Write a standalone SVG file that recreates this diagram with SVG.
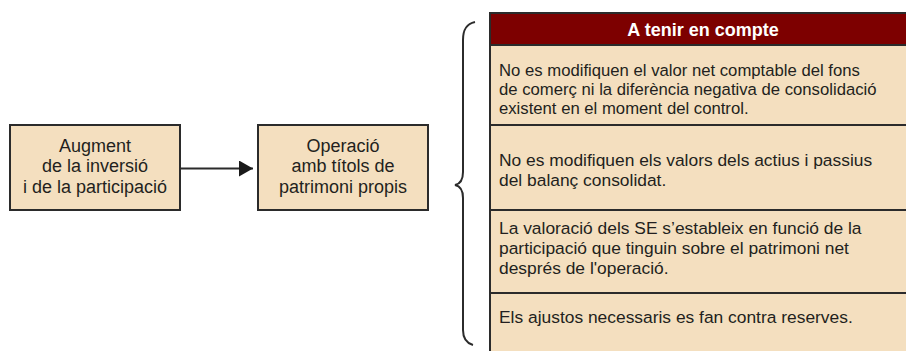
<svg xmlns="http://www.w3.org/2000/svg" width="906" height="351" viewBox="0 0 906 351">
<style>
.box{fill:#F4DFBF;stroke:#2b2b2b;stroke-width:2}
.t{font-family:"Liberation Sans",Arial,sans-serif;font-size:18px;fill:#231f20}
.c{text-anchor:middle}
.r{font-family:"Liberation Sans",Arial,sans-serif;font-size:17.4px;fill:#231f20}
.r1{font-size:16.7px}
.h{font-family:"Liberation Sans",Arial,sans-serif;font-size:18px;font-weight:bold;fill:#fff;text-anchor:middle}
.ln{stroke:#2b2b2b;stroke-width:2;fill:none}
</style>
<defs>
<marker id="ah" markerWidth="14" markerHeight="16" refX="14" refY="8" orient="auto" markerUnits="userSpaceOnUse">
<path d="M0,0 L14,8 L0,16 Z" fill="#1a1a1a"/>
</marker>
</defs>
<rect width="906" height="351" fill="#fff"/>
<g id="node-augment">
<rect class="box" x="10" y="125" width="170" height="85"/>
<text class="t c" x="95" y="152">Augment</text>
<text class="t c" x="95" y="172">de la inversió</text>
<text class="t c" x="95" y="193">i de la participació</text>
</g>
<g id="node-operacio">
<rect class="box" x="258" y="125" width="170" height="85"/>
<text class="t c" x="343" y="152">Operació</text>
<text class="t c" x="343" y="172">amb títols de</text>
<text class="t c" x="343" y="193">patrimoni propis</text>
</g>
<g id="connectors">
<line class="ln" x1="180" y1="168.5" x2="253" y2="168.5" marker-end="url(#ah)"/>
<path class="ln" d="M475,22 C466,24 463,30 463,40 L463,172 C463,180 460,184 455,185 C460,186 463,190 463,198 L463,330 C463,338 466,343 473,345"/>
</g>
<g id="node-table">
<rect x="490" y="13" width="420" height="345" fill="#F4DFBF" stroke="#2b2b2b" stroke-width="2"/>
<rect x="490" y="13" width="420" height="32" fill="#7D0000" stroke="#2b2b2b" stroke-width="2"/>
<text class="h" x="703" y="36">A tenir en compte</text>
<line class="ln" x1="490" y1="125" x2="910" y2="125"/>
<line class="ln" x1="490" y1="210" x2="910" y2="210"/>
<line class="ln" x1="490" y1="293" x2="910" y2="293"/>
<text class="r r1" x="499" y="76">No es modifiquen el valor net comptable del fons</text>
<text class="r r1" x="499" y="95">de comerç ni la diferència negativa de consolidació</text>
<text class="r r1" x="499" y="114">existent en el moment del control.</text>
<text class="r" x="499" y="166">No es modifiquen els valors dels actius i passius</text>
<text class="r" x="499" y="186">del balanç consolidat.</text>
<text class="r" x="499" y="234">La valoració dels SE s’estableix en funció de la</text>
<text class="r" x="499" y="254">participació que tinguin sobre el patrimoni net</text>
<text class="r" x="499" y="274">després de l'operació.</text>
<text class="r" x="499" y="323">Els ajustos necessaris es fan contra reserves.</text>
</g>
</svg>
